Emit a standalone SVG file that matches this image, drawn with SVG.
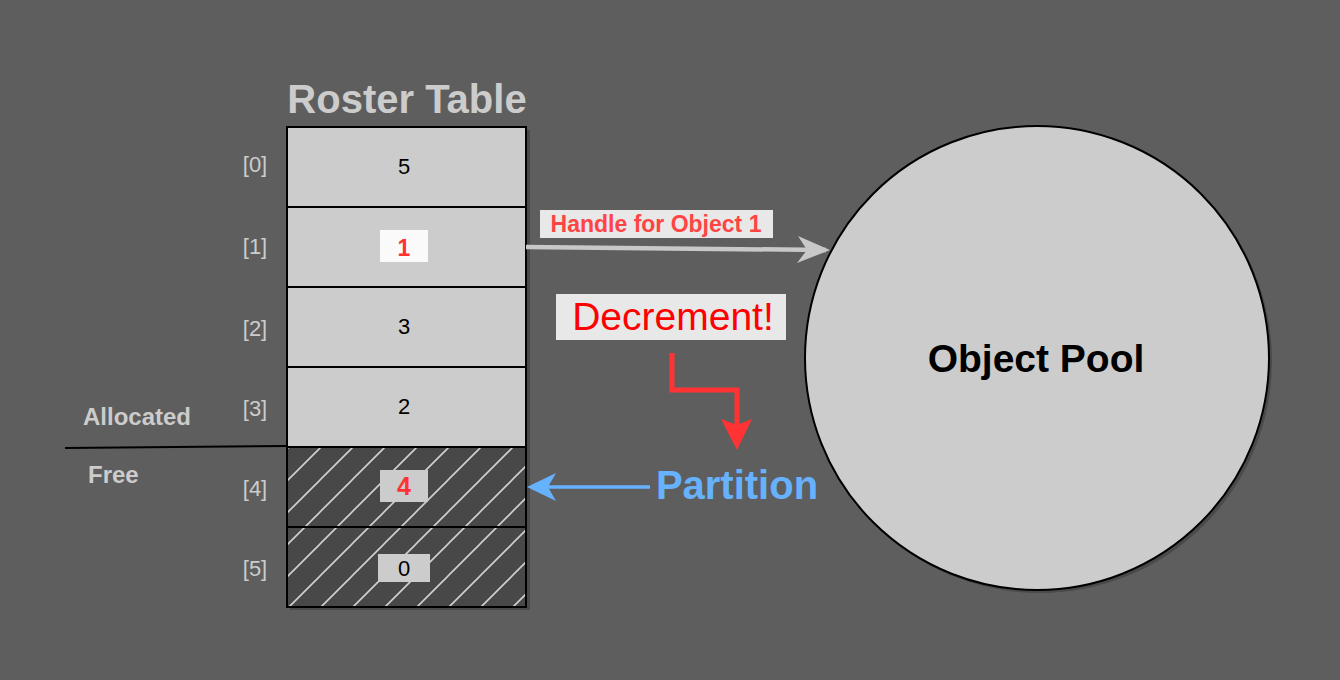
<svg xmlns="http://www.w3.org/2000/svg" width="1340" height="680" viewBox="0 0 1340 680">
<style>
text{font-family:"Liberation Sans",Arial,sans-serif}
.cell{fill:#cccccc;stroke:#000;stroke-width:2}
.hcell{fill:url(#hatch);stroke:#000;stroke-width:2}
.idx{fill:#cccccc;font-size:22px;text-anchor:middle}
.val{fill:#000;font-size:22px;text-anchor:middle}
.shadow{fill:#4a4a4a}
</style>
<defs>
<pattern id="hatch" patternUnits="userSpaceOnUse" width="32" height="32" x="0" y="0">
<rect width="32" height="32" fill="#484848"/>
<path d="M-8 8L8 -8M0 32L32 0M24 40L40 24" stroke="#d0d0d0" stroke-width="1.6"/>
</pattern>
</defs>
<rect width="1340" height="680" fill="#5e5e5e"/>

<text x="407" y="113" text-anchor="middle" font-size="40" font-weight="bold" fill="#cccccc">Roster Table</text>

<g id="table">
<rect class="shadow" x="290" y="130" width="240" height="480"/>
<g id="row0"><rect class="cell" x="287" y="127" width="239" height="80"/><text class="val" x="404" y="174">5</text><text class="idx" x="255" y="172">[0]</text></g>
<g id="row1"><rect class="cell" x="287" y="207" width="239" height="80"/><rect x="380" y="230" width="48" height="32" fill="#fafafa"/><text x="404" y="256" font-size="23" font-weight="bold" fill="#ff3333" text-anchor="middle">1</text><text class="idx" x="255" y="254">[1]</text></g>
<g id="row2"><rect class="cell" x="287" y="287" width="239" height="80"/><text class="val" x="404" y="334">3</text><text class="idx" x="255" y="336">[2]</text></g>
<g id="row3"><rect class="cell" x="287" y="367" width="239" height="80"/><text class="val" x="404" y="414">2</text><text class="idx" x="255" y="416">[3]</text></g>
<g id="row4"><rect class="hcell" x="287" y="447" width="239" height="80"/><rect x="380" y="470" width="48" height="32" fill="#cccccc"/><text x="404" y="495" font-size="25" font-weight="bold" fill="#ff3333" text-anchor="middle">4</text><text class="idx" x="255" y="496">[4]</text></g>
<g id="row5"><rect class="hcell" x="287" y="527" width="239" height="80"/><rect x="378" y="554" width="52" height="28" fill="#cccccc"/><text class="val" x="404" y="576">0</text><text class="idx" x="255" y="576">[5]</text></g>
</g>

<g id="divider">
<line x1="65" y1="448" x2="287" y2="446" stroke="#000" stroke-width="2"/>
<text x="83" y="425" font-size="24" font-weight="bold" fill="#cccccc">Allocated</text>
<text x="88" y="483" font-size="24" font-weight="bold" fill="#cccccc">Free</text>
</g>

<g id="pool">
<circle cx="1040" cy="361" r="232" fill="#4a4a4a"/>
<circle cx="1037" cy="358" r="232" fill="#cccccc" stroke="#000" stroke-width="2"/>
<text x="1036" y="372" text-anchor="middle" font-size="39" font-weight="bold" fill="#000">Object Pool</text>
</g>

<g id="connectors">
<g id="handle-arrow">
<line x1="526" y1="247" x2="826" y2="250" stroke="#c8c8c8" stroke-width="4.5"/>
<path d="M830 250L797 263L807 250L798 236Z" fill="#c8c8c8"/>
</g>
<g id="decrement-arrow">
<path d="M672 353V390H737V425" fill="none" stroke="#ff3333" stroke-width="5"/>
<path d="M721 419L737 425L752 419L737 450Z" fill="#ff3333"/>
</g>
<g id="partition-arrow">
<line x1="650" y1="487" x2="535" y2="487" stroke="#66b2ff" stroke-width="3.5"/>
<path d="M527 487L556 473L548 487L556 501Z" fill="#66b2ff"/>
</g>
</g>

<g id="label-handle">
<rect x="540" y="210" width="233" height="28" fill="#e8e8e8"/>
<text x="656" y="232" text-anchor="middle" font-size="23" font-weight="bold" fill="#ff4444">Handle for Object 1</text>
</g>
<g id="label-decrement">
<rect x="556" y="294" width="230" height="46" fill="#e8e8e8"/>
<text x="673" y="330" text-anchor="middle" font-size="39" fill="#ff0000">Decrement!</text>
</g>
<g id="label-partition">
<text x="737" y="499" text-anchor="middle" font-size="40" font-weight="bold" fill="#66b2ff">Partition</text>
</g>
</svg>
